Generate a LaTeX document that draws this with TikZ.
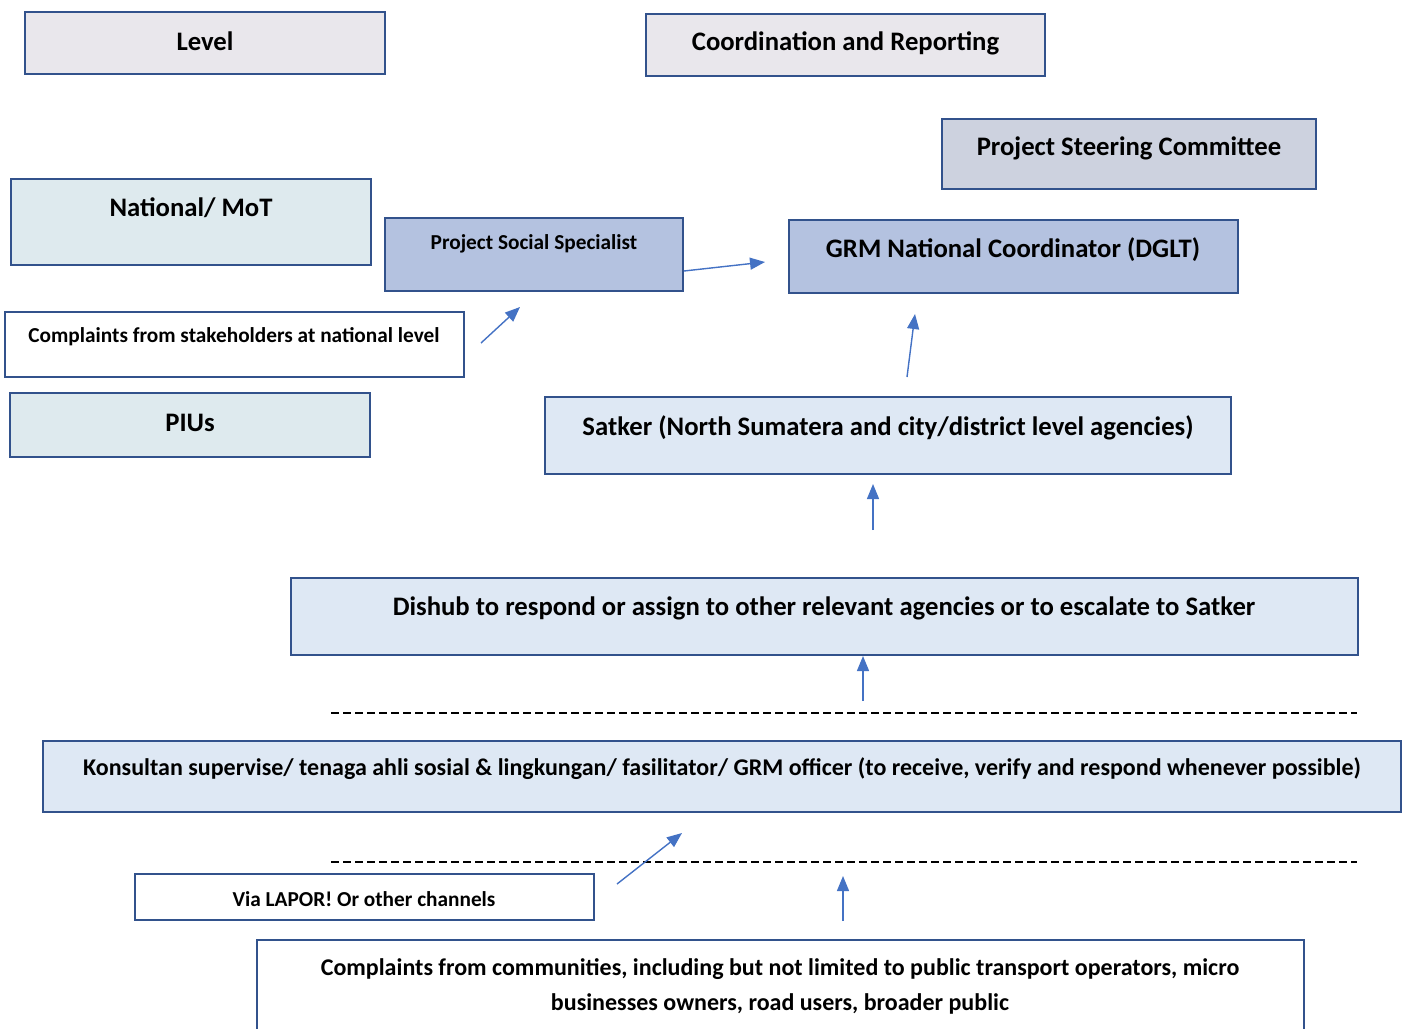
\documentclass[tikz,border=0pt]{standalone}
\usepackage{fontspec}
\setmainfont{Carlito}
\usetikzlibrary{arrows.meta}
\definecolor{edge}{RGB}{50,82,140}
\definecolor{flow}{RGB}{68,114,196}
\definecolor{fillgray}{RGB}{233,231,236}
\definecolor{fillsteer}{RGB}{205,210,223}
\definecolor{fillcyan}{RGB}{222,234,238}
\definecolor{fillmid}{RGB}{180,194,224}
\definecolor{filllight}{RGB}{222,232,244}
\tikzset{
  box/.style={draw=edge, line width=2.4pt},
  lbl/.style={font=\bfseries, inner sep=0pt, anchor=center, align=center},
  big/.style={lbl, font=\fontsize{26.7}{32}\selectfont\bfseries},
  mid/.style={lbl, font=\fontsize{24}{35}\selectfont\bfseries},
  small/.style={lbl, font=\fontsize{21.3}{26}\selectfont\bfseries},
  flowarrow/.style={draw=flow, line width=1.4pt, -{Triangle[length=15pt,width=12pt]}},
  divider/.style={draw=black, line width=1.8pt, dash pattern=on 8pt off 4pt}
}
\begin{document}
\begin{tikzpicture}[x=1pt,y=-1pt]
\useasboundingbox (0,0) rectangle (1407,1028);

% header boxes
\draw[box, fill=fillgray] (25,12) rectangle (385,74);
\node[big] (level) at (205,41) {Level};
\draw[box, fill=fillgray] (646,14) rectangle (1045,76);
\node[big] (coord) at (845.5,43) {Coordination and Reporting};

% national tier
\draw[box, fill=fillsteer] (942,119) rectangle (1316,189);
\node[big] (steer) at (1129,148) {Project Steering Committee};
\draw[box, fill=fillcyan] (11,179) rectangle (371,265);
\node[big] (mot) at (191,208) {National/ MoT};
\draw[box, fill=fillmid] (385,218) rectangle (683,291);
\node[small] (pss) at (534,244) {Project Social Specialist};
\draw[box, fill=fillmid] (789,220) rectangle (1238,293);
\node[big] (grm) at (1013,250) {GRM National Coordinator (DGLT)};
\draw[box, fill=white] (5,312) rectangle (464,377);
\node[small] (natcomp) at (234,337) {Complaints from stakeholders at national level};
\draw[box, fill=fillcyan] (10,393) rectangle (370,457);
\node[big] (pius) at (190,423) {PIUs};

% regional tier
\draw[box, fill=filllight] (545,397) rectangle (1231,474);
\node[big] (satker) at (888,428) {Satker (North Sumatera and city/district level agencies)};
\draw[box, fill=filllight] (291,578) rectangle (1358,655);
\node[big] (dishub) at (824,608) {Dishub to respond or assign to other relevant agencies or to escalate to Satker};

% field tier
\draw[divider] (331,713) -- (1357,713);
\draw[box, fill=filllight] (43,741) rectangle (1401,812);
\node[mid] (kons) at (722,769) {Konsultan supervise/ tenaga ahli sosial \& lingkungan/ fasilitator/ GRM officer (to receive, verify and respond whenever possible)};
\draw[divider] (331,862) -- (1357,862);
\draw[box, fill=white] (135,874) rectangle (594,920);
\node[small] (lapor) at (364,899) {Via LAPOR! Or other channels};
\draw[box, fill=white] (257,940) rectangle (1304,1045);
\node[mid] (comm) at (780,986) {Complaints from communities, including but not limited to public transport operators, micro\\businesses owners, road users, broader public};

% arrow end points
\coordinate (pssA) at (684,271);  \coordinate (pssB) at (765,262);
\coordinate (natA) at (481,343);  \coordinate (natB) at (520,307);
\coordinate (satA) at (907,377);  \coordinate (satB) at (915,314);
\coordinate (disA) at (873,530);  \coordinate (disB) at (873,484);
\coordinate (konA) at (863,701);  \coordinate (konB) at (863,656);
\coordinate (lapA) at (617,884);  \coordinate (lapB) at (682,833);
\coordinate (comA) at (843,921);  \coordinate (comB) at (843,876);

\draw[flowarrow] (pssA) -- (pssB);
\draw[flowarrow] (natA) -- (natB);
\draw[flowarrow] (satA) -- (satB);
\draw[flowarrow] (disA) -- (disB);
\draw[flowarrow] (konA) -- (konB);
\draw[flowarrow] (lapA) -- (lapB);
\draw[flowarrow] (comA) -- (comB);
\end{tikzpicture}
\end{document}
